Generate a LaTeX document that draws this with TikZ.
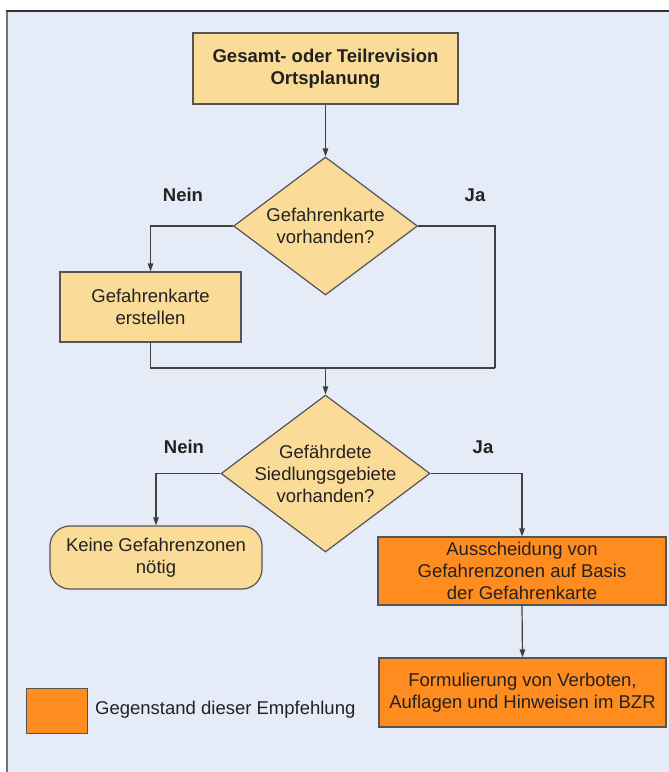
\documentclass[tikz,border=0pt]{standalone}
\usepackage{fontspec}
\setmainfont{Liberation Sans}
\usetikzlibrary{shapes.geometric,arrows.meta}
\definecolor{bgblue}{HTML}{E6ECF7}
\definecolor{peach}{HTML}{FADB97}
\definecolor{orng}{HTML}{FF8C1F}
\definecolor{edge}{HTML}{555555}
\definecolor{txt}{HTML}{222222}
\definecolor{lineclr}{HTML}{404040}
\tikzset{
  x=1pt,y=-1pt,
  every node/.style={font=\fontsize{18.5}{22}\selectfont, text=txt},
  box/.style={draw=edge, line width=1.2pt, fill=peach, align=center, inner sep=0pt},
  obox/.style={box, fill=orng},
  dia/.style={diamond, draw=edge, line width=1.2pt, fill=peach, inner sep=0pt},
  lab/.style={font=\bfseries\fontsize{18.5}{22}\selectfont},
  conn/.style={draw=lineclr, line width=1.2pt, -{Triangle[length=8pt,width=5.5pt]}},
  plain/.style={draw=lineclr, line width=1.2pt},
}
\begin{document}
\begin{tikzpicture}
\useasboundingbox (0,0) rectangle (669,772);
\fill[white] (0,0) rectangle (669,772);
\fill[bgblue] (7,11) rectangle (669,772);
\draw[draw=gray!90!black, line width=2pt] (7,11) -- (7,772);
\draw[draw=black!80, line width=1.5pt] (6,11) -- (669,11);

\node[box, minimum width=265pt, minimum height=71pt, font=\bfseries\fontsize{18.5}{22}\selectfont] (top) at (325.5,68.5) {Gesamt- oder Teilrevision\\Ortsplanung};
\node[dia, minimum width=184pt, minimum height=138pt,
      label={[align=center]center:Gefahrenkarte\\vorhanden?}] (d1) at (325.5,226) {};
\node[box, minimum width=181pt, minimum height=70pt] (gk) at (150.5,307) {Gefahrenkarte\\erstellen};
\node[dia, minimum width=209pt, minimum height=157pt,
      label={[align=center]center:Gefährdete\\Siedlungsgebiete\\vorhanden?}] (d2) at (325.5,473.5) {};
\node[box, rounded corners=20pt, minimum width=212pt, minimum height=63pt] (keine) at (156,557.5) {Keine Gefahrenzonen\\nötig};
\node[obox, minimum width=288pt, minimum height=68pt] (aus) at (522,571) {Ausscheidung von\\Gefahrenzonen auf Basis\\der Gefahrenkarte};
\node[obox, minimum width=287pt, minimum height=69pt] (form) at (522.5,692.5) {Formulierung von Verboten,\\Auflagen und Hinweisen im BZR};
\node[obox, minimum width=61pt, minimum height=45pt] (leg) at (57,711) {};
\node[anchor=west, inner sep=0pt] (legt) at (95,710) {Gegenstand dieser Empfehlung};

\node[lab] (n1) at (183,195) {Nein};
\node[lab] (j1) at (475,195) {Ja};
\node[lab] (n2) at (184,447) {Nein};
\node[lab] (j2) at (483,447) {Ja};

\coordinate (r1) at (495,368);
\coordinate (m1) at (325.5,368);

\draw[conn] (top.south) -- (d1.north);
\draw[conn] (d1.west) -| (gk.north);
\draw[plain] (d1.east) -| (r1);
\draw[plain] (gk.south) |- (r1);
\draw[conn] (m1) -- (d2.north);
\draw[conn] (d2.west) -| (keine.north);
\draw[conn] (d2.east) -| (aus.north);
\draw[conn] (aus.south) -- (form.north);
\end{tikzpicture}
\end{document}
